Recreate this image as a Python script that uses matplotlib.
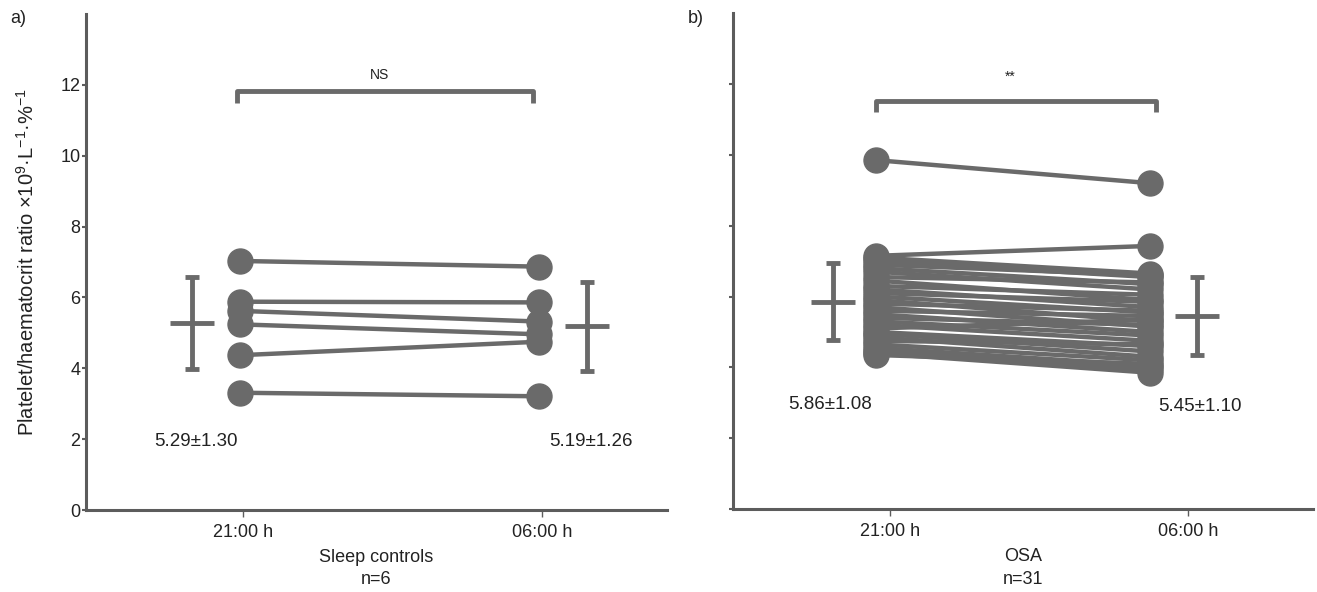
import matplotlib
matplotlib.use("Agg")
import matplotlib.pyplot as plt

plt.rcParams['font.family'] = ['Liberation Sans', 'DejaVu Sans']
plt.rcParams['mathtext.fontset'] = 'custom'
plt.rcParams['mathtext.rm'] = 'Liberation Sans'

# time points
times = ["21:00 h", "06:00 h"]

# sleep controls, paired values (x10^9/L per %)
ctrl_2100 = [7.03, 5.88, 5.62, 5.24, 4.37, 3.31]
ctrl_0600 = [6.87, 5.86, 5.32, 4.96, 4.75, 3.21]
ctrl_mean = [5.29, 5.19]
ctrl_sd = [1.30, 1.26]

# OSA patients, paired values
osa_2100 = [9.85, 7.15, 7.10, 7.00, 6.90, 6.80, 6.70, 6.55, 6.45, 6.30,
            6.20, 6.10, 6.00, 5.90, 5.80, 5.70, 5.60, 5.50, 5.40, 5.30,
            5.20, 5.10, 5.00, 4.95, 4.85, 4.75, 4.65, 4.55, 4.45, 4.40, 4.35]
osa_0600 = [9.20, 7.43, 6.65, 6.55, 6.60, 6.35, 6.20, 6.40, 5.90, 6.05,
            5.70, 5.85, 5.55, 5.30, 5.60, 5.15, 5.45, 5.00, 5.20, 4.90,
            4.75, 5.35, 4.60, 4.45, 4.30, 4.65, 4.20, 4.05, 3.95, 3.85, 4.10]
osa_mean = [5.86, 5.45]
osa_sd = [1.08, 1.10]

GREY = '#6a6a6a'
AXC = '#5c5c5c'
TXT = '#222222'

fig = plt.figure(figsize=(13.17, 5.92), dpi=100)
ax_a = fig.add_axes([0.0653, 0.1385, 0.4412, 0.8378])
ax_b = fig.add_axes([0.5566, 0.1400, 0.4404, 0.8378])


def draw_panel(ax, pre, post, xpre, xpost, means, sds, xbars, xtxt, ytxt,
               bracket, sig, sig_gap, xlabel, show_ylabels):
    for a, b in zip(pre, post):
        ax.plot([xpre, xpost], [a, b], color=GREY, lw=3.2,
                marker='o', ms=18, mfc=GREY, mec=GREY, zorder=3)
    # mean +/- SD
    for xb, m, s, xt, yt in zip(xbars, means, sds, xtxt, ytxt):
        ax.errorbar([xb], [m], yerr=[s], fmt='none', ecolor=GREY,
                    elinewidth=3.5, capsize=5, capthick=3.5, zorder=3)
        ax.plot([xb], [m], marker='_', ms=32, mew=3.5, color=GREY, zorder=3)
        ax.text(xt, yt, f"{m:.2f}±{s:.2f}", ha='center', va='center',
                fontsize=13.5, color=TXT)
    x0, x1, ytop, ylow = bracket
    ax.plot([x0, x0, x1, x1], [ylow, ytop, ytop, ylow], color=GREY,
            lw=3.5, solid_capstyle='butt')
    ax.text((x0 + x1) / 2 - 0.02, ytop + sig_gap, sig, ha='center',
            va='center', fontsize=10, color=TXT)

    ax.set_xlim(0.473, 2.42)
    ax.set_ylim(0, 14)
    ax.set_xticks([1, 2])
    ax.set_xticklabels(times, fontsize=13, color=TXT)
    ax.set_yticks(range(0, 13, 2))
    if show_ylabels:
        ax.set_yticklabels([str(v) for v in range(0, 13, 2)],
                           fontsize=13, color=TXT)
    else:
        ax.set_yticklabels([])
    ax.set_xlabel(xlabel, fontsize=13, color=TXT, labelpad=6,
                  linespacing=1.4)
    for side in ('top', 'right'):
        ax.spines[side].set_visible(False)
    for side in ('left', 'bottom'):
        ax.spines[side].set_color(AXC)
        ax.spines[side].set_linewidth(2.2)
    ax.tick_params(axis='y', direction='out', length=3, width=1.5,
                   color=AXC, pad=1)
    ax.tick_params(axis='x', direction='out', length=5, width=1,
                   color=AXC, pad=5)


draw_panel(ax_a, ctrl_2100, ctrl_0600, 0.99, 1.99, ctrl_mean, ctrl_sd,
           [0.827, 2.152], [0.843, 2.165], [1.93, 1.93],
           (0.98, 1.97, 11.83, 11.49), "NS", 0.45,
           "Sleep controls\nn=6", True)
draw_panel(ax_b, osa_2100, osa_0600, 0.954, 1.874, osa_mean, osa_sd,
           [0.808, 2.03], [0.80, 2.04], [2.96, 2.90],
           (0.954, 1.894, 11.52, 11.20), "**", 0.68,
           "OSA\nn=31", False)

ax_a.set_ylabel(r"Platelet/haematocrit ratio ×10$^{9}$·L$^{-1}$·%$^{-1}$",
                fontsize=14.5, color=TXT, labelpad=16)

fig.text(0.0137, 0.969, "a)", fontsize=13, color=TXT, ha='center',
         va='center')
fig.text(0.5285, 0.969, "b)", fontsize=13, color=TXT, ha='center',
         va='center')

fig.savefig("out.png", dpi=100)
